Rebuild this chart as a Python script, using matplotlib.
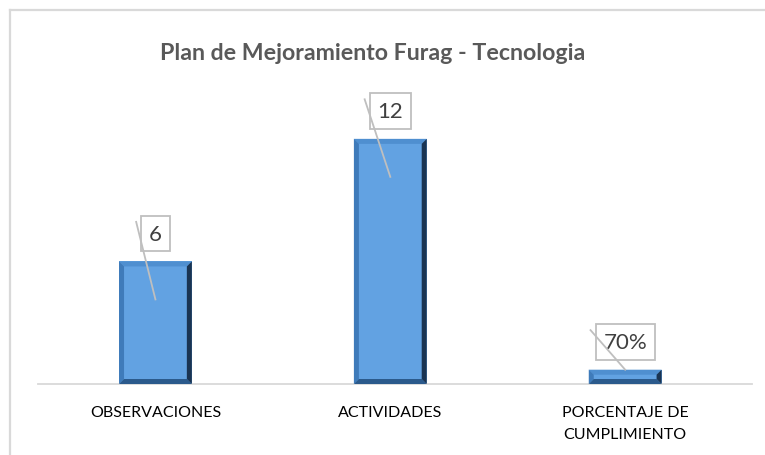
import numpy as np
import matplotlib
matplotlib.use('Agg')
import matplotlib.pyplot as plt
from matplotlib.patches import Polygon
from matplotlib.lines import Line2D

categories = ['OBSERVACIONES', 'ACTIVIDADES', 'PORCENTAJE DE\nCUMPLIMIENTO']
values = [6, 12, 0.7]
value_labels = ['6', '12', '70%']
title = 'Plan de Mejoramiento Furag - Tecnologia'

plt.rcParams['font.family'] = ['Lato', 'DejaVu Sans']

W, H = 765, 456
fig = plt.figure(figsize=(W / 100, H / 100), dpi=100)
fig.patch.set_facecolor('white')

# outer chart border (only left and top visible in the crop)
fig.add_artist(Line2D([10 / W, 10 / W], [0, 1 - 10.5 / H], transform=fig.transFigure,
                      color='#D9D9D9', lw=1.6))
fig.add_artist(Line2D([10 / W, 1], [1 - 10.5 / H, 1 - 10.5 / H], transform=fig.transFigure,
                      color='#D9D9D9', lw=1.6))

ax = fig.add_axes([38 / W, 71 / H, 714 / W, 286 / H])
ax.set_xlim(-0.5, 2.54)
ax.set_ylim(0, 14)
for s in ['top', 'right', 'left']:
    ax.spines[s].set_visible(False)
ax.spines['bottom'].set_color('#D9D9D9')
ax.spines['bottom'].set_linewidth(1.3)
ax.set_yticks([])
x = np.arange(len(categories))
ax.set_xticks(x)
ax.set_xticklabels(categories, fontsize=11.5, color='#000000', linespacing=1.75)
ax.tick_params(axis='x', length=0, pad=15)

bar_w = 0.31
bars = ax.bar(x, values, width=bar_w, color='#62A2E2', edgecolor='none', zorder=2)

# bevel effect around each bar
inv = ax.transData.inverted()
bev = 5
for b in bars:
    x0, y0 = b.get_x(), b.get_y()
    x1, y1 = x0 + b.get_width(), y0 + b.get_height()
    p0 = ax.transData.transform((x0, y0))
    p1 = ax.transData.transform((x1, y1))
    bb = min(bev, (p1[1] - p0[1]) / 2.5)
    ix0, iy0 = inv.transform((p0[0] + bev, p0[1] + bb))
    ix1, iy1 = inv.transform((p1[0] - bev, p1[1] - bb))
    faces = [
        ([(x0, y1), (x1, y1), (ix1, iy1), (ix0, iy1)], '#4F8FD0'),
        ([(x0, y0), (x0, y1), (ix0, iy1), (ix0, iy0)], '#3F7BBA'),
        ([(x0, y0), (x1, y0), (ix1, iy0), (ix0, iy0)], '#2B5A8C'),
        ([(x1, y0), (x1, y1), (ix1, iy1), (ix1, iy0)], '#1A3452'),
    ]
    for pts, c in faces:
        ax.add_patch(Polygon(pts, closed=True, facecolor=c, edgecolor='none', zorder=3))

# data labels with leader lines
pix = fig.transFigure.inverted()
for b, lab in zip(bars, value_labels):
    cx = b.get_x() + b.get_width() / 2
    top = b.get_height()
    px, py = ax.transData.transform((cx, top))
    t = ax.annotate(lab, xy=(cx, top), xytext=(0, 20), textcoords='offset points',
                    ha='center', va='center', fontsize=16, color='#404040', zorder=6,
                    bbox=dict(boxstyle='square,pad=0.35', facecolor='white',
                              edgecolor='#BFBFBF', lw=1.3))
    fig.canvas.draw()
    box = t.get_bbox_patch().get_window_extent()
    sx, sy = box.x0 - 5, box.y1 - 6
    ex = px
    ey = py - 38 if b.get_height() > 2 else py
    a = pix.transform((sx, sy))
    e = pix.transform((ex, ey))
    fig.add_artist(Line2D([a[0], e[0]], [a[1], e[1]], transform=fig.transFigure,
                          color='#BFBFBF', lw=1.3, zorder=5))

fig.text(373 / W, 1 - 53 / H, title, ha='center', va='center', fontsize=16.7,
         fontweight='bold', color='#595959')

fig.savefig('out.png', dpi=100, facecolor='white')
